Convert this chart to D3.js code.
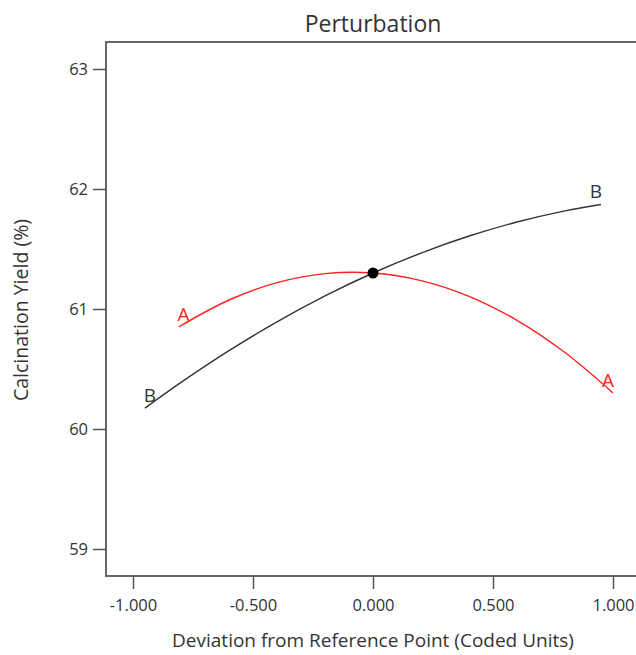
<!DOCTYPE html>
<html>
<head>
<meta charset="utf-8">
<script src="https://cdn.jsdelivr.net/npm/d3@7"></script>
<style>
  body { margin: 0; background: #fff; }
  text { font-family: "Open Sans", "Noto Sans", sans-serif; fill: #333; }
</style>
</head>
<body>
<svg width="636" height="655"></svg>
<script>
// values (coded deviation -> yield %)
var xA = [-0.81, -0.6, -0.4, -0.2, 0, 0.2, 0.4, 0.6, 0.8, 1.0];
var yA = [60.85, 61.075, 61.22, 61.295, 61.3, 61.237, 61.106, 60.906, 60.637, 60.30];
var xB = [-0.95, -0.8, -0.6, -0.4, -0.2, 0, 0.2, 0.4, 0.6, 0.8, 0.95];
var yB = [60.174, 60.388, 60.653, 60.893, 61.109, 61.3, 61.466, 61.608, 61.725, 61.818, 61.871];
var refPoint = [0, 61.3];
var xTicks = [-1, -0.5, 0, 0.5, 1];
var xTickLabels = ["-1.000", "-0.500", "0.000", "0.500", "1.000"];
var yTicks = [59, 60, 61, 62, 63];

var svg = d3.select("svg");
var margin = { top: 42, left: 106 };
var plotW = 534, plotH = 534;

var xScale = d3.scaleLinear().domain([-1.1125, 1.1125]).range([0, plotW]);
var yScale = d3.scaleLinear().domain([58.775, 63.225]).range([plotH, 0]);

var g = svg.append("g").attr("transform", `translate(${margin.left}, ${margin.top})`);

// title
svg.append("text")
  .attr("x", margin.left + xScale(0))
  .attr("y", 32)
  .attr("text-anchor", "middle")
  .style("font-size", "23px")
  .text("Perturbation");

// frame
g.append("rect")
  .attr("width", plotW).attr("height", plotH)
  .attr("fill", "none").attr("stroke", "#666").attr("stroke-width", 2);

var yAxis = g.append("g")
  .call(d3.axisLeft(yScale).tickValues(yTicks).tickSize(13).tickPadding(5).tickFormat(d3.format("d")));
var xAxis = g.append("g")
  .attr("transform", `translate(0, ${plotH})`)
  .call(d3.axisBottom(xScale).tickValues(xTicks).tickSize(13).tickPadding(10)
    .tickFormat((d, i) => xTickLabels[i]));

[yAxis, xAxis].forEach(a => {
  a.select(".domain").remove();
  a.selectAll(".tick line").attr("stroke", "#555").attr("stroke-width", 1.5);
  a.selectAll(".tick text").style("font-size", "16.5px").style("font-family", "'Open Sans', sans-serif").attr("fill", "#333");
});

// axis titles
svg.append("text")
  .attr("x", margin.left + xScale(0))
  .attr("y", 647)
  .attr("text-anchor", "middle")
  .style("font-size", "19px")
  .text("Deviation from Reference Point (Coded Units)");

svg.append("text")
  .attr("transform", "translate(28, 310) rotate(-90)")
  .attr("text-anchor", "middle")
  .style("font-size", "19.5px")
  .text("Calcination Yield (%)");

var line = d3.line()
  .x(d => xScale(d[0]))
  .y(d => yScale(d[1]))
  .curve(d3.curveCatmullRom);

var series = [
  { name: "A", xs: xA, ys: yA, color: "#f22" },
  { name: "B", xs: xB, ys: yB, color: "#333" }
];

series.forEach(s => {
  var pts = s.xs.map((x, i) => [x, s.ys[i]]);
  g.append("path")
    .attr("d", line(pts))
    .attr("fill", "none")
    .attr("stroke", s.color)
    .attr("stroke-width", 1.4);
  var first = pts[0], last = pts[pts.length - 1];
  [[first, 5], [last, -5]].forEach(p => {
    g.append("text")
      .attr("x", xScale(p[0][0]) + p[1])
      .attr("y", yScale(p[0][1]) - 13)
      .attr("text-anchor", "middle")
      .attr("dominant-baseline", "central")
      .style("font-size", "19px")
      .style("fill", s.color)
      .text(s.name);
  });
});

g.append("circle")
  .attr("cx", xScale(refPoint[0]))
  .attr("cy", yScale(refPoint[1]))
  .attr("r", 5.5)
  .attr("fill", "#000");
</script>
</body>
</html>
